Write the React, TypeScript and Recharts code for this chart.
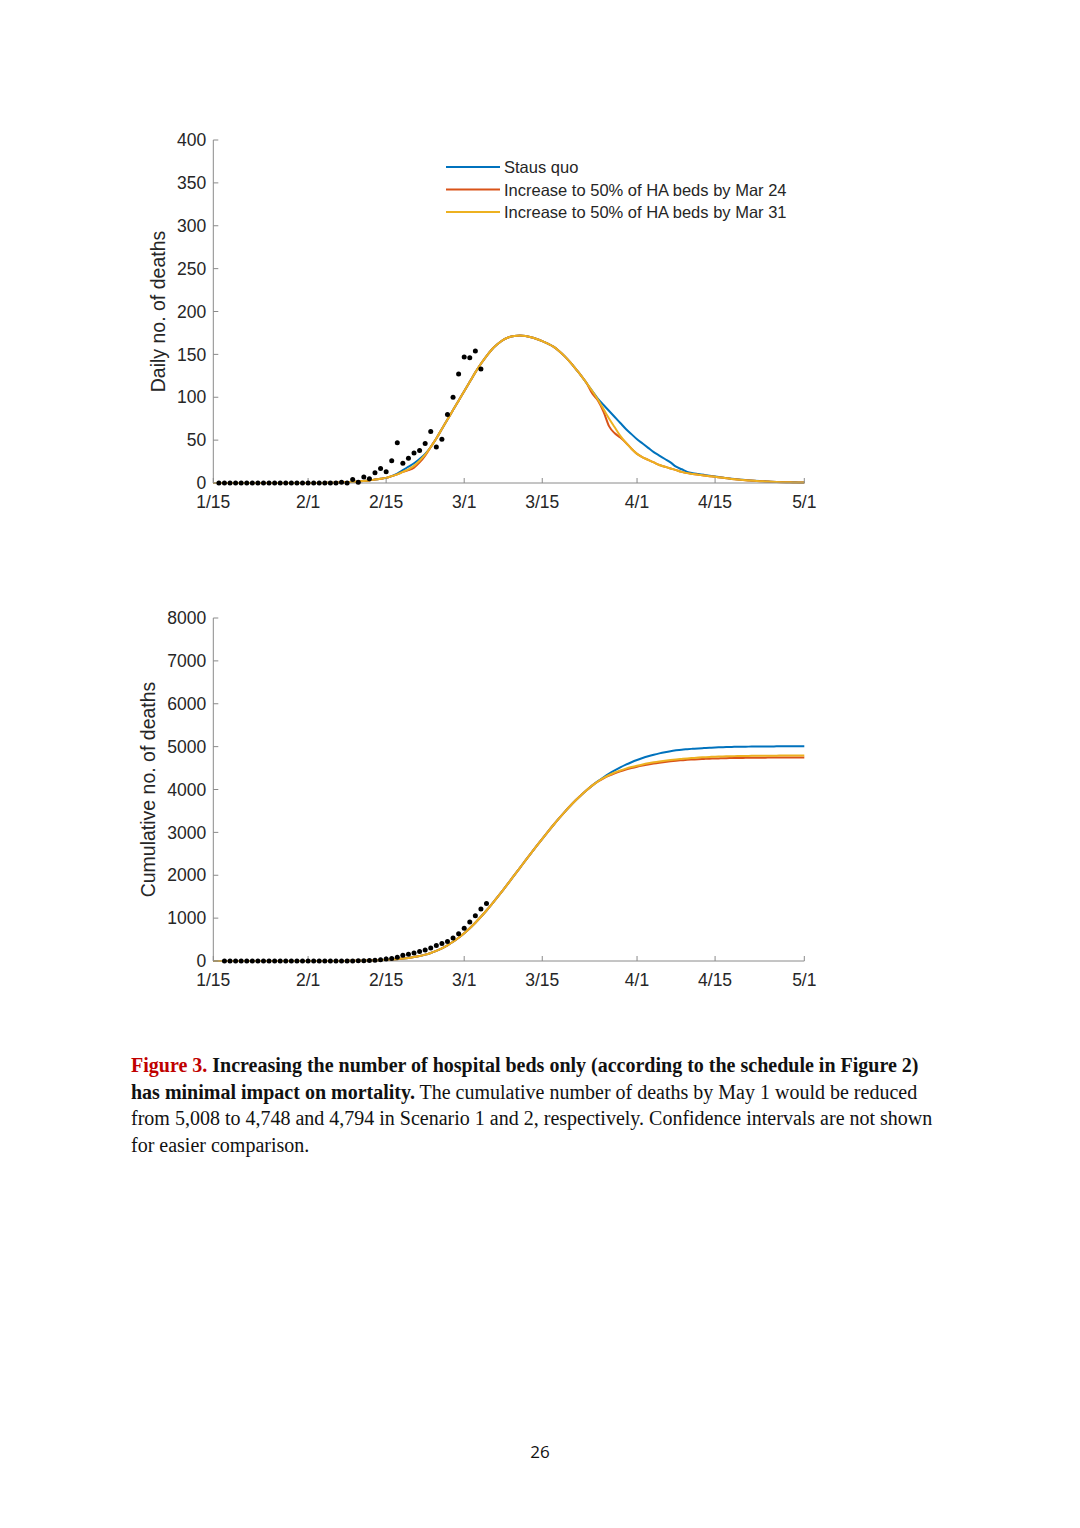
import { ComposedChart, Line, XAxis, YAxis, Legend } from "recharts";

// ─── Data ──────────────────────────────────────────────────────────────────────

// x axis = days since 1/15 (the figure's date axis has no Feb 29)
const dateTicks = [0, 17, 31, 45, 59, 76, 90, 106];
const dateLabels = ["1/15", "2/1", "2/15", "3/1", "3/15", "4/1", "4/15", "5/1"];

const dailyTicks = [0, 50, 100, 150, 200, 250, 300, 350, 400];
const cumulativeTicks = [0, 1000, 2000, 3000, 4000, 5000, 6000, 7000, 8000];

const scenarioNames = [
  "Staus quo",
  "Increase to 50% of HA beds by Mar 24",
  "Increase to 50% of HA beds by Mar 31",
];
const scenarioColors = ["#0072BD", "#D95319", "#EDB120"];

// daily deaths, model, day 0..106
const dailyBlue = [
  0, 0, 0, 0, 0, 0, 0, 0, 0, 0, 0, 0, 0, 0, 0, 0, 0, 0, 0, 0,
  0.2, 0.3, 0.5, 0.7, 1, 1.3, 1.8, 2.4, 3, 4, 5, 6, 8,
  11, 15, 19, 23, 28, 34, 42,
  52, 63, 74, 85, 96, 107, 118, 129, 139, 148, 156, 162, 167, 170, 171.5,
  172, 171.5, 170, 168, 165.5, 162.5, 159, 154, 148, 141, 133, 125, 116, 107,
  98, 91, 84, 77, 70, 63, 57, 51, 46, 41, 36, 32, 28, 24, 19, 16, 13, 11.5,
  10.5, 9.5, 8.5, 7.5,
  6.6, 5.8, 5, 4.3, 3.7, 3.1, 2.6, 2.2, 1.9, 1.6, 1.3, 1.1, 0.9, 0.8, 0.7, 0.6,
];
const dailyRed = [
  0, 0, 0, 0, 0, 0, 0, 0, 0, 0, 0, 0, 0, 0, 0, 0, 0, 0, 0, 0,
  0.2, 0.3, 0.5, 0.7, 1, 1.3, 1.8, 2.4, 3, 4, 5, 6, 8, 10, 13,
  15, 18, 24, 32, 42,
  52, 63, 74, 85, 96, 107, 118, 129, 139, 148, 156, 162, 167, 170, 171.5,
  172, 171.5, 170, 168, 165.5, 162.5, 159, 154, 148, 141, 133, 125, 116,
  104, 96, 83, 66, 58, 53,
  47, 40, 34, 30, 27, 24, 21, 19, 17, 15, 13, 11.5, 10.5, 9.5, 8.7, 8, 7.2,
  6.4, 5.6, 4.8, 4.1, 3.5, 3, 2.5, 2.1, 1.8, 1.5, 1.2, 1, 0.8, 0.7, 0.6, 0.5,
];
const dailyYellow = [
  0, 0, 0, 0, 0, 0, 0, 0, 0, 0, 0, 0, 0, 0, 0, 0, 0, 0, 0, 0,
  0.2, 0.3, 0.5, 0.7, 1, 1.3, 1.8, 2.4, 3, 4, 5, 6, 8, 10, 13, 16, 20, 26, 33, 42,
  52, 63, 74, 85, 96, 107, 118, 129, 139, 148, 156, 162, 167, 170, 171.5,
  172, 171.5, 170, 168, 165.5, 162.5, 159, 154, 148, 141, 133, 125, 116, 107,
  97, 86, 75, 65, 55,
  47, 40, 34, 30, 27, 24, 21, 19, 17, 15, 13, 11.5, 10.5, 9.5, 8.7, 8, 7.2,
  6.4, 5.6, 4.8, 4.1, 3.5, 3, 2.5, 2.1, 1.8, 1.5, 1.2, 1, 0.8, 0.7, 0.6, 0.5,
];

// reported daily deaths, days 1..48
const observedDaily = [
  0, 0, 0, 0, 0, 0, 0, 0, 0, 0, 0, 0, 0, 0, 0, 0, 0, 0, 0, 0, 0, 0,
  1, 0, 4, 1, 7, 5, 12, 17, 13, 26, 47, 23, 29, 35, 38, 46, 60, 42, 51, 80,
  100, 127, 147, 146, 154, 133,
];
const observedDailyStart = 1;

// cumulative deaths, model: shared part day 0..68, then each scenario 69..106
const cumulativeShared = [
  0, 0, 0, 0, 0, 0, 0, 0, 0, 0, 0, 0, 0, 0, 0, 0, 0, 0, 0, 0,
  0, 1, 1, 2, 3, 4, 6, 8, 11, 14, 19, 25, 33, 43, 56, 72, 92, 117, 148, 188,
  237, 296, 366, 448, 542, 648, 765, 893, 1031, 1178, 1333, 1494, 1660, 1830,
  2002, 2174, 2346, 2516, 2684, 2850, 3013, 3172, 3326, 3474, 3615, 3748,
  3873, 3989, 4096,
];
const cumulativeBlueTail = [
  4194, 4285, 4369, 4446, 4516, 4579, 4636, 4687, 4733, 4774, 4810, 4842,
  4870, 4894, 4913, 4929, 4940, 4950, 4959, 4967, 4974, 4980, 4985, 4989,
  4993, 4996, 4998, 5000, 5002, 5003, 5004, 5005, 5006, 5006, 5007, 5007,
  5008, 5008,
];
const cumulativeRedTail = [
  4187, 4260, 4322, 4376, 4423, 4464, 4500, 4532, 4560, 4585, 4607, 4626,
  4643, 4658, 4671, 4682, 4692, 4700, 4707, 4713, 4718, 4723, 4727, 4730,
  4733, 4735, 4737, 4739, 4741, 4742, 4743, 4744, 4745, 4746, 4746, 4747,
  4747, 4748,
];
const cumulativeYellowTail = [
  4190, 4270, 4338, 4396, 4444, 4486, 4523, 4556, 4585, 4611, 4634, 4654,
  4672, 4688, 4702, 4714, 4725, 4735, 4744, 4752, 4759, 4765, 4770, 4774,
  4777, 4780, 4782, 4784, 4786, 4787, 4788, 4789, 4790, 4791, 4792, 4793,
  4793, 4794,
];

// reported cumulative deaths, days 2..49
const observedCumulative = [
  0, 0, 0, 0, 0, 0, 0, 0, 0, 0, 0, 0, 0, 0, 0, 0, 0, 0, 0, 0, 0, 0,
  1, 1, 5, 6, 13, 18, 30, 47, 60, 86, 133, 156, 185, 220, 258, 304, 364, 406,
  457, 537, 637, 764, 911, 1057, 1211, 1344,
];
const observedCumulativeStart = 2;

// ─── Rows for recharts ────────────────────────────────────────────────────────

const cumulativeBlue = [...cumulativeShared, ...cumulativeBlueTail];
const cumulativeRed = [...cumulativeShared, ...cumulativeRedTail];
const cumulativeYellow = [...cumulativeShared, ...cumulativeYellowTail];

const dailyRows = dailyBlue.map((_, day) => ({
  day,
  blue: dailyBlue[day],
  red: dailyRed[day],
  yellow: dailyYellow[day],
  observed: observedDaily[day - observedDailyStart] ?? null,
}));

const cumulativeRows = cumulativeBlue.map((_, day) => ({
  day,
  blue: cumulativeBlue[day],
  red: cumulativeRed[day],
  yellow: cumulativeYellow[day],
  observed: observedCumulative[day - observedCumulativeStart] ?? null,
}));

// ─── Layout ───────────────────────────────────────────────────────────────────

const SANS = "'Liberation Sans', Arial, sans-serif";
const SERIF = "'Liberation Serif', 'Times New Roman', serif";
const AXIS_GREY = "#8a8a8a";
const TEXT_DARK = "#262626";

const CHART_W = 860;
const CHART_H = 420;
const PLOT_LEFT = 213.3;
const PLOT_RIGHT = 804.3;
const PLOT_TOP = 20;
const PLOT_H = 343;
const X_AXIS_H = 30;

// recharts clones the label element with its own x/y, so the position props
// get names it does not touch
function YTitle({ text, titleLeft }: { text: string; titleLeft: number }) {
  const cy = PLOT_TOP + PLOT_H / 2;
  return (
    <text
      x={titleLeft}
      y={cy}
      transform={`rotate(-90 ${titleLeft} ${cy})`}
      textAnchor="middle"
      dominantBaseline="central"
      fontSize={19.5}
      fontFamily={SANS}
      fill={TEXT_DARK}
    >
      {text}
    </text>
  );
}

function ScenarioLegend() {
  return (
    <svg width={360} height={72}>
      {scenarioNames.map((name, i) => {
        const y = 12 + i * 22.5;
        return (
          <g key={name}>
            <line x1={6} x2={60} y1={y} y2={y} stroke={scenarioColors[i]} strokeWidth={2} />
            <text
              x={64}
              y={y}
              dominantBaseline="central"
              fontSize={16.5}
              fontFamily={SANS}
              fill={TEXT_DARK}
            >
              {name}
            </text>
          </g>
        );
      })}
    </svg>
  );
}

interface PanelProps {
  rows: typeof dailyRows;
  yTicks: number[];
  title: string;
  titleLeft: number;
  showLegend?: boolean;
}

function Panel({ rows, yTicks, title, titleLeft, showLegend }: PanelProps) {
  const tickStyle = { fill: TEXT_DARK, fontSize: 17.5, fontFamily: SANS };
  return (
    <ComposedChart
      width={CHART_W}
      height={CHART_H}
      data={rows}
      margin={{
        top: PLOT_TOP,
        right: CHART_W - PLOT_RIGHT,
        bottom: CHART_H - PLOT_TOP - PLOT_H - X_AXIS_H,
        left: 0,
      }}
    >
      <XAxis
        type="number"
        dataKey="day"
        domain={[0, 106]}
        ticks={dateTicks}
        interval={0}
        tickFormatter={(v: number) => dateLabels[dateTicks.indexOf(v)]}
        height={X_AXIS_H}
        tick={tickStyle}
        tickSize={-5}
        tickMargin={18}
        axisLine={{ stroke: AXIS_GREY }}
        tickLine={{ stroke: AXIS_GREY }}
      />
      <YAxis
        type="number"
        domain={[yTicks[0], yTicks[yTicks.length - 1]]}
        ticks={yTicks}
        interval={0}
        width={PLOT_LEFT}
        tick={tickStyle}
        tickSize={-5}
        tickMargin={12}
        axisLine={{ stroke: AXIS_GREY }}
        tickLine={{ stroke: AXIS_GREY }}
        label={<YTitle text={title} titleLeft={titleLeft} />}
      />
      {showLegend && (
        <Legend
          layout="vertical"
          align="center"
          verticalAlign="middle"
          content={<ScenarioLegend />}
          wrapperStyle={{ left: 440, top: 35, width: 360, height: 72 }}
        />
      )}
      <Line type="monotone" dataKey="blue" stroke={scenarioColors[0]} strokeWidth={2} dot={false} activeDot={false} isAnimationActive={false} />
      <Line type="monotone" dataKey="red" stroke={scenarioColors[1]} strokeWidth={2} dot={false} activeDot={false} isAnimationActive={false} />
      <Line type="monotone" dataKey="yellow" stroke={scenarioColors[2]} strokeWidth={2} dot={false} activeDot={false} isAnimationActive={false} />
      <Line
        dataKey="observed"
        stroke="none"
        dot={{ r: 2.5, fill: "#000", stroke: "none" }}
        activeDot={false}
        legendType="none"
        isAnimationActive={false}
      />
    </ComposedChart>
  );
}

// ─── Page ─────────────────────────────────────────────────────────────────────

const captionLine = { whiteSpace: "nowrap" as const, height: 26.5 };

export default function App() {
  return (
    <div
      style={{
        position: "absolute",
        left: 0,
        top: 0,
        width: 1080,
        height: 1528,
        background: "#fff",
        overflow: "hidden",
      }}
    >
      <div style={{ position: "absolute", left: 0, top: 120 }}>
        <Panel rows={dailyRows} yTicks={dailyTicks} title="Daily no. of deaths" titleLeft={158} showLegend />
      </div>
      <div style={{ position: "absolute", left: 0, top: 598 }}>
        <Panel rows={cumulativeRows} yTicks={cumulativeTicks} title="Cumulative no. of deaths" titleLeft={148} />
      </div>

      <div
        style={{
          position: "absolute",
          left: 131,
          top: 1052,
          fontFamily: SERIF,
          fontSize: 20,
          lineHeight: "26.5px",
          color: "#111",
        }}
      >
        <div style={captionLine}>
          <b style={{ color: "#C00000" }}>Figure 3.</b>{" "}
          <b>Increasing the number of hospital beds only (according to the schedule in Figure 2)</b>
        </div>
        <div style={captionLine}>
          <b>has minimal impact on mortality.</b> The cumulative number of deaths by May 1 would be reduced
        </div>
        <div style={captionLine}>
          from 5,008 to 4,748 and 4,794 in Scenario 1 and 2, respectively. Confidence intervals are not shown
        </div>
        <div style={captionLine}>for easier comparison.</div>
      </div>

      <div
        style={{
          position: "absolute",
          left: 0,
          top: 1440,
          width: 1080,
          textAlign: "center",
          fontFamily: "'Open Sans', 'Noto Sans', sans-serif",
          fontSize: 17,
          color: "#111",
        }}
      >
        26
      </div>
    </div>
  );
}
